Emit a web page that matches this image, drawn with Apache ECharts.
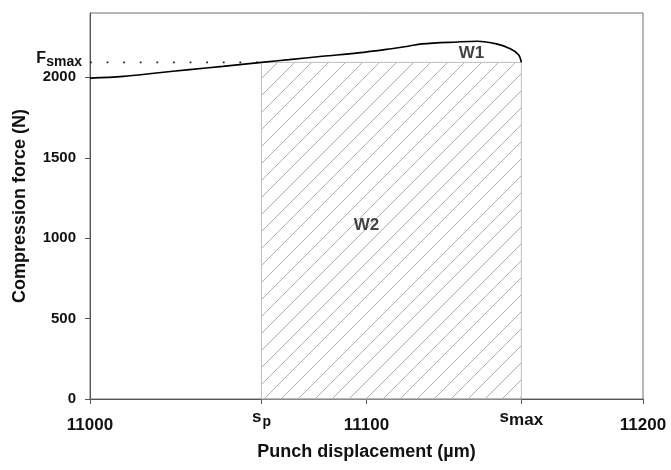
<!DOCTYPE html>
<html>
<head>
<meta charset="utf-8">
<script src="https://cdn.jsdelivr.net/npm/echarts@6/dist/echarts.min.js"></script>
<style>
html,body{margin:0;padding:0;background:#fff;}
#chart{width:671px;height:470px;}
</style>
</head>
<body>
<div id="chart"></div>
<script>
// ---- data ----
const xMin = 11000, xMax = 11200, yMin = 0, yMax = 2400;
const sP = 11062;      // s_p
const sMax = 11156;    // s_max
const fSmax = 2093;    // F_smax
const xTickValues = [11000, sP, 11100, sMax, 11200];
const yTickValues = [0, 500, 1000, 1500, 2000];
const displacement = [11000, 11012, 11024, 11036, 11048, 11062, 11072, 11084, 11097, 11109, 11115, 11120, 11133, 11140, 11147, 11152, 11155, 11156];
const force =        [1995, 2006, 2027, 2048, 2068, 2093, 2110, 2131, 2152, 2178, 2193, 2208, 2220, 2224, 2208, 2178, 2141, 2093];
const areaLabels = [[11138, 2147, 'W1'], [11100, 1078, 'W2']];

// hatch pattern
function makeHatch() {
  const s = 17;
  const c = document.createElement('canvas');
  c.width = s; c.height = s;
  const g = c.getContext('2d');
  g.strokeStyle = '#a8a8a8';
  g.lineWidth = 0.9;
  g.beginPath();
  g.moveTo(-1, s + 1); g.lineTo(s + 1, -1);
  g.moveTo(-1, 1); g.lineTo(1, -1);
  g.moveTo(s - 1, s + 1); g.lineTo(s + 1, s - 1);
  g.stroke();
  return c;
}
const hatch = makeHatch();

const FONT = 'Liberation Sans';
const chart = echarts.init(document.getElementById('chart'));
const curve = displacement.map((x, i) => [x, force[i]]);

chart.setOption({
  animation: false,
  backgroundColor: '#fff',
  grid: { left: 90, right: 28, top: 13, bottom: 71, show: true, borderColor: '#6e6e6e', borderWidth: 1, containLabel: false, outerBoundsMode: 'none' },
  xAxis: {
    type: 'value', min: xMin, max: xMax,
    splitLine: { show: false },
    axisLine: { show: true, lineStyle: { color: '#555', width: 1 } },
    axisTick: { show: true, customValues: xTickValues, length: 5, lineStyle: { color: '#555' } },
    axisLabel: {
      customValues: xTickValues, margin: 10, hideOverlap: false,
      fontFamily: FONT, fontWeight: 'bold', fontSize: 17, color: '#111',
      formatter: function (v) {
        if (Math.abs(v - sP) < 0.5) return '{s|s}{p|p}';
        if (Math.abs(v - sMax) < 0.5) return '{s|s}{m|max}';
        return '{n|' + v + '}';
      },
      rich: {
        n: { fontFamily: FONT, fontWeight: 'bold', fontSize: 17, color: '#111', padding: [8, 0, 0, 0] },
        s: { fontFamily: FONT, fontWeight: 'bold', fontSize: 17, color: '#111', padding: [0, 0, 8, 0] },
        p: { fontFamily: FONT, fontWeight: 'bold', fontSize: 14, color: '#111', padding: [2, 0, 0, 1] },
        m: { fontFamily: FONT, fontWeight: 'bold', fontSize: 17, color: '#111', padding: [0, 0, 3, 0] }
      }
    },
    name: 'Punch displacement (\u00b5m)', nameLocation: 'middle', nameGap: 44,
    nameTextStyle: { fontFamily: FONT, fontWeight: 'bold', fontSize: 18, color: '#111' }
  },
  yAxis: {
    type: 'value', min: yMin, max: yMax,
    splitLine: { show: false },
    axisLine: { show: true, lineStyle: { color: '#555', width: 1 } },
    axisTick: { show: true, customValues: yTickValues, length: 5, lineStyle: { color: '#555' } },
    axisLabel: {
      customValues: yTickValues, margin: 14,
      formatter: function (v) { return String(v); },
      fontFamily: FONT, fontWeight: 'bold', fontSize: 15, color: '#111'
    },
    name: 'Compression force (N)', nameLocation: 'middle', nameGap: 61,
    nameTextStyle: { fontFamily: FONT, fontWeight: 'bold', fontSize: 18, color: '#111' }
  },
  series: [
    {
      type: 'custom',
      data: [[sP, sMax, fSmax]],
      silent: true,
      z: 1,
      renderItem: function (params, api) {
        const p0 = api.coord([api.value(0), api.value(2)]);
        const p1 = api.coord([api.value(1), 0]);
        return {
          type: 'rect',
          shape: { x: p0[0], y: p0[1], width: p1[0] - p0[0], height: p1[1] - p0[1] },
          style: { fill: { image: hatch, repeat: 'repeat' }, stroke: '#bdbdbd', lineWidth: 1 }
        };
      }
    },
    {
      type: 'line',
      data: [
        {
          value: [xMin, fSmax],
          symbol: 'circle', symbolSize: 0.1,
          label: {
            show: true, position: 'left', distance: 8, offset: [0, -2],
            formatter: '{F|F}{sub|smax}',
            rich: {
              F: { fontFamily: FONT, fontWeight: 'bold', fontSize: 16, color: '#111', padding: [0, 0, 4, 0] },
              sub: { fontFamily: FONT, fontWeight: 'bold', fontSize: 14, color: '#111', padding: [4, 0, 0, 0] }
            }
          }
        },
        { value: [sP, fSmax], symbol: 'none' }
      ],
      showSymbol: true,
      symbol: 'none',
      silent: true,
      clip: false,
      z: 2,
      lineStyle: { color: '#222', width: 1.8, type: [1.8, 14.8] }
    },
    {
      type: 'line',
      data: curve,
      symbol: 'none',
      smooth: 0.35,
      z: 3,
      lineStyle: { color: '#000', width: 1.6 }
    },
    {
      type: 'scatter',
      data: areaLabels,
      symbolSize: 0,
      z: 4,
      label: {
        show: true, position: 'inside',
        formatter: function (p) { return p.value[2]; },
        fontFamily: FONT, fontWeight: 'bold', fontSize: 17, color: '#111'
      }
    }
  ]
});
</script>
</body>
</html>
